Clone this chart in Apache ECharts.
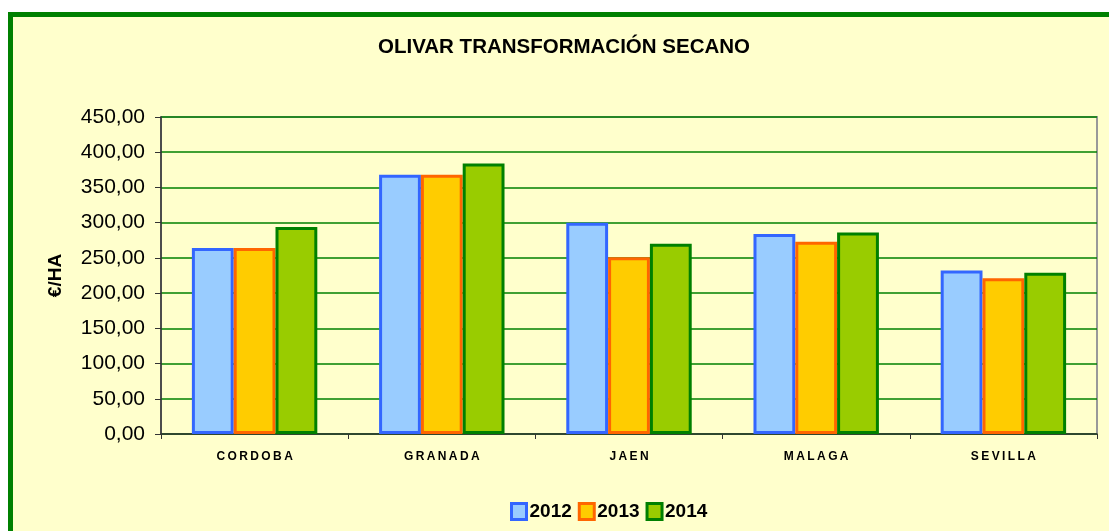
<!DOCTYPE html>
<html>
<head>
<meta charset="utf-8">
<script src="https://cdn.jsdelivr.net/npm/echarts@6/dist/echarts.min.js"></script>
<style>
  html, body { margin: 0; padding: 0; background: #fff; overflow: hidden; }
  #chart { width: 1109px; height: 531px; }
</style>
</head>
<body>
<div id="chart"></div>
<script>
// datos (€/HA)
const provincias = ['CORDOBA', 'GRANADA', 'JAEN', 'MALAGA', 'SEVILLA']
const anios = ['2012', '2013', '2014']
const v2012 = [264, 368, 300, 284, 232]
const v2013 = [264, 368, 251, 273, 221]
const v2014 = [294, 384, 270, 286, 229]
const yMin = 0
const yMax = 450
const yStep = 50

const colores = [
  { fill: '#99CCFF', border: '#3366FF' },
  { fill: '#FFCC00', border: '#FF6600' },
  { fill: '#99CC00', border: '#008000' },
]
const valores = [v2012, v2013, v2014]

const chart = echarts.init(document.getElementById('chart'))

chart.setOption({
  backgroundColor: '#ffffff',
  animation: false,
  textStyle: { fontFamily: '"Liberation Sans", Arial, sans-serif' },
  graphic: [{
    type: 'rect',
    z: -10,
    silent: true,
    shape: { x: 10.5, y: 14.5, width: 1300, height: 700 },
    style: { fill: '#FFFFCC', stroke: '#008000', lineWidth: 5 },
  }],
  title: {
    text: 'OLIVAR TRANSFORMACIÓN SECANO',
    left: 559,
    textAlign: 'center',
    top: 32,
    textStyle: { fontSize: 20.5, fontWeight: 'bold', color: '#000' },
  },
  legend: {
    data: anios,
    left: 510,
    top: 502,
    padding: 0,
    itemWidth: 15,
    itemHeight: 16,
    itemGap: 6,
    icon: 'rect',
    itemStyle: { borderWidth: 3 },
    textStyle: { fontSize: 19, fontWeight: 'bold', color: '#000', padding: [0, 0, 0, -2] },
  },
  grid: {
    left: 161, top: 117, right: 12, bottom: 97,
    show: true,
    backgroundColor: '#FFFFCC',
    borderColor: '#999999',
    borderWidth: 2,
  },
  xAxis: {
    type: 'category',
    data: provincias,
    axisLine: { lineStyle: { color: '#333', width: 1.5 } },
    axisTick: { show: true, length: 5, lineStyle: { color: '#333' } },
    axisLabel: {
      margin: 17,
      fontSize: 12,
      fontWeight: 'bold',
      color: '#000',
      formatter: (v) => v.split('').join('\u2009'),
    },
  },
  yAxis: {
    type: 'value',
    min: yMin,
    max: yMax,
    interval: yStep,
    name: '€/HA',
    nameLocation: 'middle',
    nameGap: 96,
    nameRotate: 90,
    nameTextStyle: { fontSize: 19, fontWeight: 'bold', color: '#000' },
    axisLine: { show: true, lineStyle: { color: '#333', width: 1.5 } },
    axisTick: { show: true, length: 6, lineStyle: { color: '#333' } },
    axisLabel: {
      margin: 16,
      fontSize: 21,
      color: '#000',
      formatter: (v) => v.toFixed(2).replace('.', ','),
    },
    splitLine: { lineStyle: { color: '#008000', width: 1.5 } },
  },
  series: anios.map((a, i) => ({
    name: a,
    type: 'bar',
    data: valores[i],
    barGap: '0%',
    barCategoryGap: '33%',
    itemStyle: {
      color: colores[i].fill,
      borderColor: colores[i].border,
      borderWidth: 3,
    },
  })),
})
</script>
</body>
</html>
